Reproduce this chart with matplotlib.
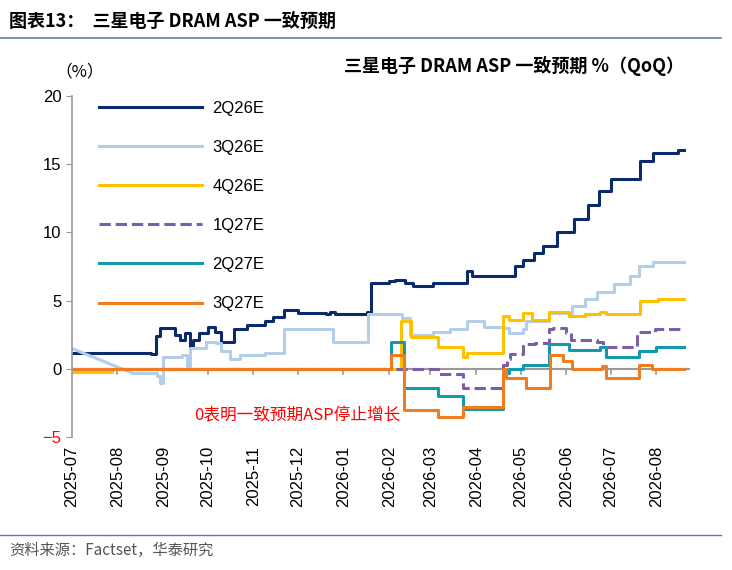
import matplotlib
matplotlib.use("Agg")
import matplotlib.pyplot as plt
import matplotlib.dates as mdates
import pandas as pd

plt.rcParams['font.family'] = ['Liberation Sans', 'Noto Sans CJK SC', 'DejaVu Sans']
CJK = ['Noto Sans CJK SC', 'DejaVu Sans']

END = "2026-08-20"
q2_26_d = ["2025-07-01","2025-08-24","2025-08-27","2025-08-30","2025-09-09","2025-09-12","2025-09-16","2025-09-19","2025-09-21","2025-09-25","2025-10-01","2025-10-06","2025-10-10","2025-10-19","2025-10-28","2025-11-09","2025-11-14","2025-11-22","2025-12-01","2025-12-20","2025-12-23","2025-12-26","2026-01-17","2026-01-20","2026-02-01","2026-02-05","2026-02-12","2026-02-17","2026-03-03","2026-03-26","2026-03-29","2026-04-27","2026-05-03","2026-05-10","2026-05-16","2026-05-26","2026-06-06","2026-06-16","2026-06-23","2026-07-01","2026-07-21","2026-07-30","2026-08-16",END]
q2_26_v = [1.2,1.1,2.4,3.0,2.5,2.1,2.6,1.5,2.1,2.6,3.1,2.7,2.0,2.9,3.2,3.5,3.8,4.3,4.1,4.0,4.2,4.0,4.2,6.3,6.4,6.5,6.3,6.1,6.3,7.2,6.8,7.5,8.0,8.5,9.0,10.0,11.0,12.0,13.0,13.9,15.2,15.8,16.0,16.0]

# first segment of 3Q26E is a gradual decline
q3_26_d = ["2025-07-01","2025-08-11","2025-08-28","2025-08-30","2025-09-01","2025-09-14","2025-09-17","2025-09-19","2025-09-30","2025-10-07","2025-10-10","2025-10-16","2025-10-23","2025-11-09","2025-11-22","2025-12-25","2026-01-18","2026-02-10","2026-02-15","2026-03-03","2026-03-14","2026-03-26","2026-04-06","2026-04-20","2026-04-23","2026-05-03","2026-05-05","2026-05-20","2026-06-05","2026-06-14","2026-06-22","2026-07-03","2026-07-14","2026-07-20","2026-07-30",END]
q3_26_v = [1.5,-0.3,-0.5,-1.0,0.9,1.0,0.2,1.5,2.0,1.9,1.3,0.7,1.0,1.2,2.9,2.0,4.0,3.7,2.5,2.7,2.9,3.5,3.1,3.0,2.6,2.9,3.5,4.1,4.6,5.1,5.6,6.2,6.8,7.5,7.8,7.8]

q4_26_d = ["2025-07-01","2025-07-28","2026-02-09","2026-02-16","2026-03-06","2026-03-23","2026-03-26","2026-04-19","2026-04-23","2026-05-03","2026-05-09","2026-05-20","2026-06-03","2026-06-14","2026-06-24","2026-06-28","2026-07-21","2026-08-02",END]
q4_26_v = [-0.2,0.0,3.5,2.3,1.6,0.9,1.15,3.9,3.6,4.1,3.6,4.2,3.9,4.0,4.2,4.0,5.0,5.1,5.1]

q1_27_d = ["2025-07-01","2026-03-03","2026-03-06","2026-03-23","2026-04-19","2026-04-22","2026-04-24","2026-05-03","2026-05-11","2026-05-20","2026-05-23","2026-06-01","2026-06-04","2026-06-22","2026-06-26","2026-07-19","2026-07-31",END]
q1_27_v = [0.0,0.0,-0.4,-1.4,0.3,0.7,1.1,1.8,1.9,2.9,3.0,2.6,2.1,2.0,1.6,2.7,2.9,2.9]

q2_27_d = ["2025-07-01","2026-02-02","2026-02-11","2026-03-06","2026-03-23","2026-04-19","2026-04-23","2026-05-03","2026-05-20","2026-06-03","2026-06-24","2026-06-28","2026-07-20","2026-08-01",END]
q2_27_v = [0.0,2.0,-1.4,-2.0,-2.9,-0.3,0.0,0.3,1.8,1.4,1.6,0.9,1.3,1.6,1.6]

q3_27_d = ["2025-07-01","2026-02-02","2026-02-11","2026-03-06","2026-03-23","2026-04-19","2026-04-21","2026-05-05","2026-05-21","2026-05-30","2026-06-05","2026-06-25","2026-06-28","2026-07-20","2026-07-29",END]
q3_27_v = [0.0,1.0,-3.0,-3.5,-2.8,0.0,-0.7,-1.4,1.0,0.6,0.0,0.2,-0.7,0.3,0.0,0.0]

series = [
    ("2Q26E", q2_26_d, q2_26_v, "#0b2a6b", "-", False),
    ("3Q26E", q3_26_d, q3_26_v, "#b4cde8", "-", True),
    ("4Q26E", q4_26_d, q4_26_v, "#ffc000", "-", False),
    ("1Q27E", q1_27_d, q1_27_v, "#7b5ea7", "--", False),
    ("2Q27E", q2_27_d, q2_27_v, "#1597ad", "-", False),
    ("3Q27E", q3_27_d, q3_27_v, "#ee7d22", "-", False),
]

fig = plt.figure(figsize=(7.32, 5.7), dpi=100)
ax = fig.add_axes([0.098, 0.233, 0.845, 0.599])
for name, d, v, c, ls, ramp in series:
    dd = pd.to_datetime(d)
    if ramp:
        ax.plot(dd[:2], v[:2], color=c, lw=2.2, ls=ls)
        ax.step(dd[1:], v[1:], where="post", color=c, lw=2.2, ls=ls, label=name)
    else:
        ax.step(dd, v, where="post", color=c, lw=2.2, ls=ls, label=name)

months = pd.date_range("2025-07-01", "2026-08-01", freq="MS")
ax.set_xlim(pd.Timestamp("2025-07-01"), pd.Timestamp("2026-08-24"))
ax.set_ylim(-5, 20)
ax.axhline(0, color="#999999", lw=1.5, zorder=0)
for m in months[1:]:
    ax.plot([m, m], [0, -0.35], color="#999999", lw=1.2, zorder=0)
ax.set_xticks(months)
ax.xaxis.set_major_formatter(mdates.DateFormatter("%Y-%m"))
ax.tick_params(axis="x", length=0, labelsize=12, rotation=90, pad=6)
ax.set_yticks([-5, 0, 5, 10, 15, 20])
ax.tick_params(axis="y", labelsize=12, color="#999999", length=4)
ax.get_yticklabels()[0].set_color("red")
for s in ["top", "right", "bottom"]:
    ax.spines[s].set_visible(False)
ax.spines["left"].set_color("#999999")
ax.spines["left"].set_linewidth(1.2)

ax.legend(loc="upper left", frameon=False, fontsize=12, handlelength=6.2,
          labelspacing=1.45, bbox_to_anchor=(0.02, 1.03), handletextpad=0.6)

ax.text(pd.Timestamp("2025-09-22"), -3.4, "0表明一致预期ASP停止增长",
        color="red", style="italic", fontsize=12, family=CJK, va="center")

fig.text(0.012, 0.962, "图表13：  三星电子 DRAM ASP 一致预期", fontsize=13, fontweight="bold",
         family=CJK, va="center")
fig.add_artist(plt.Line2D([0.0, 0.985], [0.933, 0.933], color="#5b7fb5", lw=1.2))
fig.text(0.935, 0.885, "三星电子 DRAM ASP 一致预期 %（QoQ）", fontsize=13, fontweight="bold",
         family=CJK, ha="right", va="center")
fig.text(0.075, 0.873, "（%）", fontsize=12, family=CJK, va="center")
fig.add_artist(plt.Line2D([0.0, 0.985], [0.062, 0.062], color="#5b7fb5", lw=1.0))
fig.text(0.012, 0.035, "资料来源：Factset，华泰研究", fontsize=11, color="#555555",
         family=CJK, va="center")

fig.savefig("out.png", dpi=100)
